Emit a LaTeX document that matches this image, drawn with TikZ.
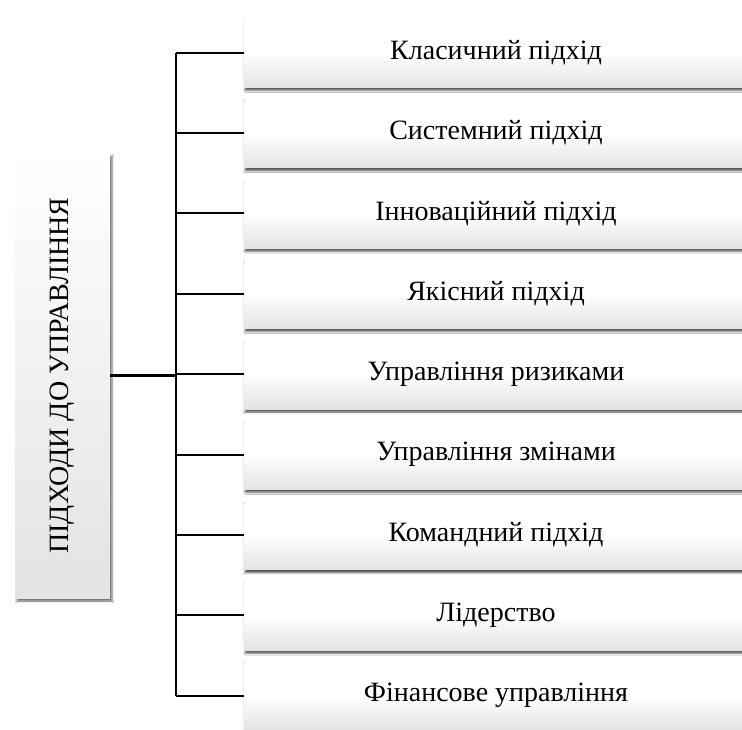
\documentclass[tikz,border=0pt]{standalone}
\usepackage{fontspec}
\setmainfont{Liberation Serif}
\usetikzlibrary{shadows.blur,calc}
\begin{document}
\begin{tikzpicture}[x=1pt,y=-1pt,
  itembox/.style={rectangle, draw=none, minimum width=504pt, minimum height=70pt,
    inner sep=0pt, top color=white, bottom color=gray!22, middle color=white,
    blur shadow={shadow xshift=1pt, shadow yshift=-3pt, shadow blur steps=4, shadow opacity=65},
    font=\fontsize{28}{32}\selectfont},
  rootbox/.style={rectangle, draw=none, minimum width=95pt, minimum height=445pt,
    inner sep=0pt, top color=white, bottom color=gray!22,
    blur shadow={shadow xshift=2pt, shadow yshift=-3pt, shadow blur steps=4, shadow opacity=60}},
  link/.style={line width=2pt, black},
  mainlink/.style={line width=3pt, black}]
\useasboundingbox (0,0) rectangle (742,729);
\clip (0,0) rectangle (742,729);
\fill[white] (0,0) rectangle (742,729);

% root of the tree
\node[rootbox] (root) at (62.5,375.5) {};
\node[rotate=90, font=\fontsize{28}{32}\selectfont] (roottext) at (root.center) {ПІДХОДИ ДО УПРАВЛІННЯ};

% branches
\foreach \i/\t in {1/Класичний підхід, 2/Системний підхід, 3/Інноваційний підхід,
  4/Якісний підхід, 5/Управління ризиками, 6/Управління змінами,
  7/Командний підхід, 8/Лідерство, 9/Фінансове управління}{
  \node[itembox] (b\i) at (496, {52.5+80.4*(\i-1)}) {\t};
  \coordinate (j\i) at (176, {52.5+80.4*(\i-1)});
  \draw[link] (j\i) -- (b\i.west);
}
\draw[link] (j1) -- (j9);
\coordinate (trunk) at (176, 375.5);
\draw[mainlink] (root.east |- trunk) -- (trunk);
\end{tikzpicture}
\end{document}
